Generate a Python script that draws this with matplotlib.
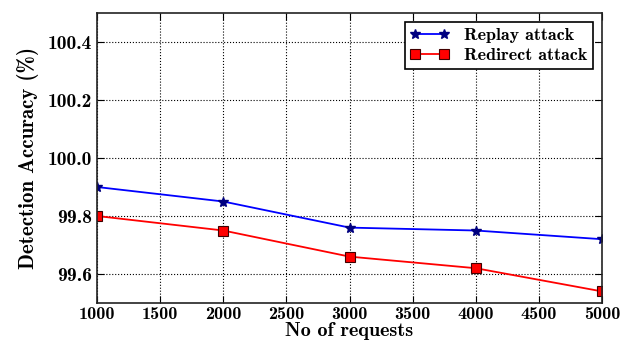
import matplotlib
matplotlib.use("Agg")
import matplotlib.pyplot as plt

requests = [1000, 2000, 3000, 4000, 5000]
replay = [99.90, 99.85, 99.76, 99.75, 99.72]
redirect = [99.80, 99.75, 99.66, 99.62, 99.54]

plt.rcParams['font.family'] = ['cmb10', 'DejaVu Serif']
plt.rcParams['axes.unicode_minus'] = False

fig = plt.figure(figsize=(6.22, 3.45), dpi=100)
ax = fig.add_axes([0.156, 0.1217, 0.8119, 0.8406])

ax.plot(requests, replay, color='blue', lw=1.3, marker='*', ms=7,
        mfc='navy', mec='navy', label='Replay attack')
ax.plot(requests, redirect, color='red', lw=1.3, marker='s', ms=7,
        mfc='red', mec='#400000', mew=0.8, label='Redirect attack')

ax.set_xlim(1000, 5000)
ax.set_ylim(99.5, 100.5)
ax.set_xticks(range(1000, 5001, 500))
ax.set_yticks([99.6, 99.8, 100.0, 100.2, 100.4])
ax.set_yticklabels(['99.6', '99.8', '100.0', '100.2', '100.4'])
ax.tick_params(direction='in', top=True, right=True, length=5)
ax.tick_params(axis='y', labelsize=14)
ax.tick_params(axis='x', labelsize=13, pad=3)
ax.grid(True, color='black', linestyle=':', lw=0.8)
for s in ax.spines.values():
    s.set_linewidth(1.2)
    s.set_color('#222222')

ax.set_xlabel('No of requests', fontsize=14.5, labelpad=0)
ax.set_ylabel('Detection Accuracy (%)', fontsize=15, labelpad=6)

leg = ax.legend(loc='upper right', fontsize=13, fancybox=False,
                framealpha=1, edgecolor='black', borderaxespad=0.5,
                handlelength=2.2, numpoints=2, borderpad=0.3,
                labelspacing=0.25)
leg.get_frame().set_linewidth(1.2)

fig.savefig('out.png', dpi=100)
